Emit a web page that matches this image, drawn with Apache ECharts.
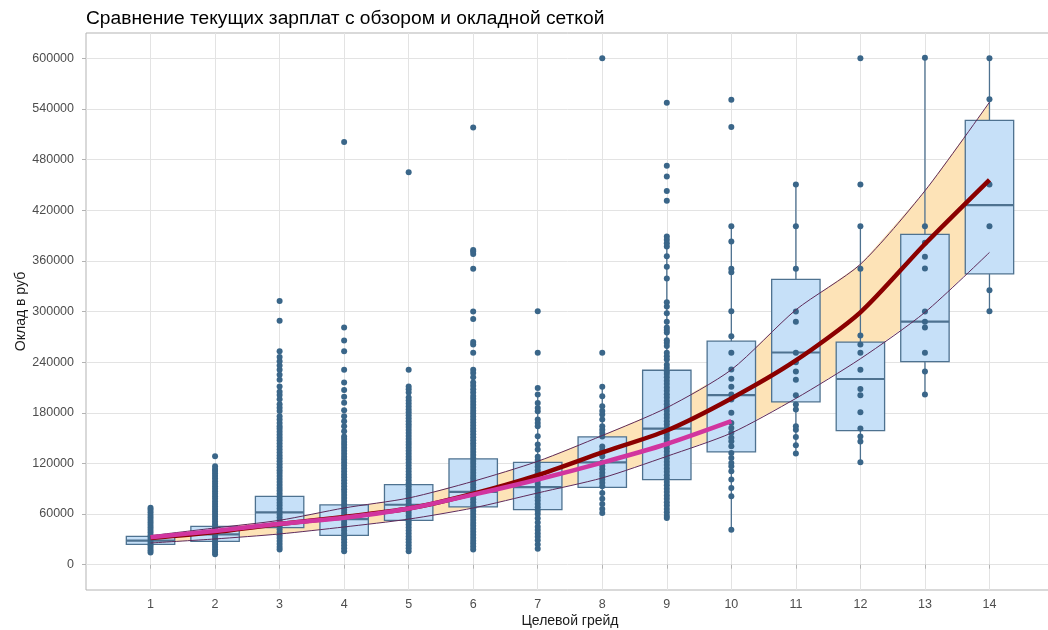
<!DOCTYPE html>
<html>
<head>
<meta charset="utf-8">
<script src="https://cdn.jsdelivr.net/npm/echarts@6/dist/echarts.min.js"></script>
<style>
html,body{margin:0;padding:0;background:#fff;}
#chart{width:1048px;height:630px;}
</style>
</head>
<body>
<div id="chart"></div>
<script>
// ---- data ----
const titleText = 'Сравнение текущих зарплат с обзором и окладной сеткой';
const xName = 'Целевой грейд';
const yName = 'Оклад в руб';
const grades = [1,2,3,4,5,6,7,8,9,10,11,12,13,14];
const yTicks = [0,60000,120000,180000,240000,300000,360000,420000,480000,540000,600000];

// salary grid (band) lower / middle / upper
const gridMin = [25700, 30500, 36400, 44700, 54000, 67200, 85000, 102800, 128400, 156000, 197000, 244000, 299000, 370000];
const gridMid = [31600, 38800, 48200, 56500, 66500, 84000, 106000, 133000, 159000, 197000, 242000, 299000, 380000, 456000];
const gridMax = [34400, 43500, 52600, 67200, 79000, 98800, 122500, 153000, 186000, 231000, 302000, 356000, 443000, 548000];
// survey (market) line, grades 1..10
const surveyGrades = [1,2,3,4,5,6,7,8,9,10];
const survey = [32500, 40000, 48500, 55500, 66500, 83000, 101000, 121000, 143000, 170000];

// box statistics per grade
const boxLow  = [14500, 12500, 18000, 16000, 16000, 18000, 19000, 61300, 55400, 41500, 131600, 121300, 201600, 300400];
const boxQ1   = [24000, 27700, 44000, 34800, 52600, 68400, 65200, 91700, 100800, 133600, 193000, 158900, 240700, 344700];
const boxMed  = [28500, 36000, 62000, 54000, 71000, 86200, 92000, 121300, 161300, 200800, 251400, 220000, 288000, 426000];
const boxQ3   = [33500, 45400, 81000, 70800, 94900, 125300, 121300, 151400, 230400, 264800, 338000, 263600, 391300, 526500];
const boxHigh = [47500, 72000, 137000, 124000, 158000, 210000, 201600, 211000, 389000, 401000, 450600, 401000, 600000, 600000];

// individual salaries per grade
const pts1 = [14500, 17000, 20000, 23000, 26000, 29000, 32000, 35000, 38000, 41000, 44000, 47000, 50000, 53000, 56000, 59000, 62000, 65000, 67500];
const pts2 = [12500, 15000, 18000, 21000, 24000, 27000, 30000, 33000, 36000, 39000, 42000, 45000, 48000, 51000, 54000, 57000, 60000, 63000, 66000, 69000, 72000, 75000, 78000, 81000, 84000, 87000, 90000, 93000, 96000, 99000, 102000, 105000, 108000, 111000, 113500, 116500, 128500];
const pts3 = [18000, 21000, 24500, 28000, 31500, 35000, 38500, 42000, 45500, 49000, 52500, 56000, 59500, 63000, 66500, 70000, 73500, 77000, 80500, 84000, 87500, 91000, 94500, 98000, 101500, 105000, 108500, 112000, 115500, 119000, 122500, 126000, 129500, 133000, 136500, 140000, 143500, 147000, 150500, 154000, 157500, 161000, 164000, 168000, 172000, 176000, 182000, 186000, 190000, 196000, 201000, 205000, 211000, 219000, 225000, 231000, 236000, 241000, 246000, 253000, 289000, 312500];
const pts4 = [16000, 19500, 23000, 26500, 30000, 33500, 37000, 40500, 44000, 47500, 51000, 54500, 58000, 61500, 65000, 68500, 72000, 75500, 79000, 82500, 86000, 89500, 93000, 96500, 100000, 103500, 107000, 110500, 114000, 117500, 121000, 124500, 128000, 131500, 135000, 138500, 142000, 145500, 149000, 152000, 158000, 164000, 170000, 176000, 183000, 192000, 199000, 207000, 216000, 231000, 253000, 265600, 281000, 500700];
const pts5 = [16000, 19500, 23000, 26500, 30000, 33500, 37000, 40500, 44000, 47500, 51000, 54500, 58000, 61500, 65000, 68500, 72000, 75500, 79000, 82500, 86000, 89500, 93000, 96500, 100000, 103500, 107000, 110500, 114000, 117500, 121000, 124500, 128000, 131500, 135000, 138500, 142000, 145500, 149000, 152500, 156000, 159500, 163000, 166500, 170000, 173500, 177000, 180500, 184000, 187500, 191000, 194500, 198000, 204000, 208000, 211000, 231000, 465000];
const pts6 = [18000, 21500, 25000, 28500, 32000, 35500, 39000, 42500, 46000, 49500, 53000, 56500, 60000, 63500, 67000, 70500, 74000, 77500, 81000, 84500, 88000, 91500, 95000, 98500, 102000, 105500, 109000, 112500, 116000, 119500, 123000, 126500, 130000, 133500, 137000, 140500, 144000, 147500, 151000, 154500, 158000, 161500, 165000, 168500, 172000, 175500, 179000, 182500, 186000, 189500, 193000, 196500, 200000, 204000, 208000, 212000, 216000, 222000, 227000, 231000, 251000, 261000, 264000, 291000, 300000, 350600, 368000, 371000, 373000, 518000];
const pts7 = [19000, 24000, 29000, 33000, 37000, 41000, 45000, 50000, 55000, 60000, 64000, 68000, 72000, 76000, 80000, 84000, 88000, 92000, 96000, 100000, 104000, 108000, 112000, 116000, 120000, 124000, 128000, 136400, 142300, 152100, 164000, 168000, 172000, 181800, 185800, 191700, 201600, 209500, 251000, 300400];
const pts8 = [61300, 66000, 72000, 78000, 85000, 92800, 97000, 101000, 105000, 109000, 113000, 117000, 121000, 128400, 132000, 136000, 140000, 152000, 156000, 160000, 164000, 172000, 177900, 182000, 187700, 199500, 210700, 251000, 600000];
const pts9 = [55400, 58000, 62000, 66000, 70000, 74000, 78000, 82000, 86000, 90000, 94000, 98000, 102000, 106000, 110000, 114000, 118000, 122000, 126000, 130000, 134000, 138000, 142000, 146000, 150000, 154000, 158000, 162000, 166000, 170000, 174000, 178000, 182000, 186000, 190000, 194000, 198000, 202000, 206000, 210000, 214000, 218000, 222000, 226000, 229000, 233000, 237000, 243000, 247000, 251000, 259000, 263000, 266000, 275000, 278000, 281000, 288000, 298000, 306000, 311000, 339000, 353000, 365500, 377000, 381000, 385000, 389000, 431200, 442700, 460000, 472700, 547500];
const pts10 = [41500, 81000, 90900, 100800, 110600, 116600, 120600, 126500, 132400, 140300, 146200, 150300, 156200, 162100, 168000, 179900, 195600, 201600, 210700, 220200, 231200, 251000, 270700, 300400, 346600, 350600, 383000, 401000, 518600, 551000];
const pts11 = [131600, 141500, 151400, 160000, 164000, 183800, 189700, 200800, 219000, 229000, 240000, 251000, 288000, 300000, 350600, 401000, 450600];
const pts12 = [121300, 146000, 152000, 161300, 180600, 200800, 208300, 231000, 251000, 261000, 271500, 350600, 401000, 450600, 600000];
const pts13 = [201600, 229000, 251000, 281000, 288000, 300000, 351000, 364900, 381500, 401000, 600800];
const pts14 = [300400, 325300, 401000, 450600, 551400, 600000];
const pointsByGrade = [pts1, pts2, pts3, pts4, pts5, pts6, pts7, pts8, pts9, pts10, pts11, pts12, pts13, pts14];

// ---- build series data ----
const boxData = grades.map((g, i) => [g, boxLow[i], boxQ1[i], boxMed[i], boxQ3[i], boxHigh[i]]);
const scatterData = [];
grades.forEach((g, i) => pointsByGrade[i].forEach(v => scatterData.push([g, v])));
const maxLine = grades.map((g, i) => [g, gridMax[i]]);
const minLine = grades.map((g, i) => [g, gridMin[i]]);
const midLine = grades.map((g, i) => [g, gridMid[i]]);
const surveyLine = surveyGrades.map((g, i) => [g, survey[i]]);

const FONT = '"Liberation Sans", Arial, sans-serif';
const BOX_W = 0.75;

const chart = echarts.init(document.getElementById('chart'), null, {renderer: 'canvas'});
const option = {
  animation: false,
  backgroundColor: '#ffffff',
  title: {
    text: titleText, left: 81, top: 4,
    textStyle: {fontFamily: FONT, fontSize: 19.2, fontWeight: 'normal', color: '#000'}
  },
  grid: {left: 86, top: 33, width: 968, height: 557, show: true, borderColor: '#b3b3b3', borderWidth: 1,
    containLabel: false, outerBoundsMode: 'none'},
  xAxis: {
    type: 'value', min: 0, max: 15, interval: 0.5,
    name: xName, nameLocation: 'middle', nameGap: 24, nameMoveOverlap: false,
    nameTextStyle: {fontFamily: FONT, fontSize: 14, color: '#1a1a1a'},
    axisLine: {show: false},
    axisTick: {show: true, length: 4, customValues: grades, lineStyle: {color: '#b3b3b3'}},
    axisLabel: {customValues: grades, margin: 8, fontFamily: FONT, fontSize: 12.5, color: '#4d4d4d',
      formatter: v => (Number.isInteger(v) && v >= 1 && v <= 14) ? String(v) : ''},
    splitLine: {show: true, lineStyle: {color: '#e3e3e3', width: 1}}
  },
  yAxis: {
    type: 'value', min: -30000, max: 630000, interval: 30000,
    name: yName, nameLocation: 'middle', nameGap: 58, nameRotate: 90, nameMoveOverlap: false,
    nameTextStyle: {fontFamily: FONT, fontSize: 14, color: '#1a1a1a'},
    axisLine: {show: false},
    axisTick: {show: true, length: 4, customValues: yTicks, lineStyle: {color: '#b3b3b3'}},
    axisLabel: {customValues: yTicks, margin: 12, fontFamily: FONT, fontSize: 12.5, color: '#4d4d4d',
      formatter: v => (v >= 0 && v % 60000 === 0) ? String(v) : ''},
    splitLine: {show: true, lineStyle: {color: '#e3e3e3', width: 1}}
  },
  series: [
    { // band fill between grid min and max
      type: 'custom', z: 1, silent: true,
      data: [[grades[0], gridMin[0]]],
      encode: {x: 0, y: 1},
      renderItem: function (params, api) {
        const pts = [];
        for (let i = 0; i < grades.length; i++) pts.push(api.coord([grades[i], gridMax[i]]));
        for (let i = grades.length - 1; i >= 0; i--) pts.push(api.coord([grades[i], gridMin[i]]));
        return {type: 'polygon', shape: {points: pts, smooth: 0}, style: {fill: '#fde3b7', stroke: null}};
      }
    },
    { // box plots
      type: 'custom', z: 2, silent: true,
      data: boxData,
      encode: {x: 0, y: [1, 2, 3, 4, 5]},
      renderItem: function (params, api) {
        const x = api.value(0);
        const lo = api.coord([x, api.value(1)]);
        const q1 = api.coord([x - BOX_W / 2, api.value(2)]);
        const md = api.coord([x, api.value(3)]);
        const q3 = api.coord([x + BOX_W / 2, api.value(4)]);
        const hi = api.coord([x, api.value(5)]);
        const c = '#4e7290';
        return {
          type: 'group',
          children: [
            {type: 'line', shape: {x1: hi[0], y1: hi[1], x2: hi[0], y2: q3[1]}, style: {stroke: c, lineWidth: 1.3}},
            {type: 'line', shape: {x1: lo[0], y1: lo[1], x2: lo[0], y2: q1[1]}, style: {stroke: c, lineWidth: 1.3}},
            {type: 'rect', shape: {x: q1[0], y: q3[1], width: q3[0] - q1[0], height: q1[1] - q3[1]},
              style: {fill: '#c6e0f8', stroke: c, lineWidth: 1.3}},
            {type: 'line', shape: {x1: q1[0], y1: md[1], x2: q3[0], y2: md[1]}, style: {stroke: c, lineWidth: 2.2}}
          ]
        };
      }
    },
    {
      type: 'scatter', z: 3, silent: true, symbol: 'circle', symbolSize: 6,
      itemStyle: {color: '#3a6689', opacity: 1},
      data: scatterData
    },
    {
      type: 'line', z: 4, silent: true, symbol: 'none', smooth: 0.25,
      lineStyle: {color: '#5e2a5a', width: 1}, data: maxLine
    },
    {
      type: 'line', z: 4, silent: true, symbol: 'none', smooth: 0.25,
      lineStyle: {color: '#5e2a5a', width: 1}, data: minLine
    },
    {
      type: 'line', z: 5, silent: true, symbol: 'none', smooth: 0.25,
      lineStyle: {color: '#8b0000', width: 4.5}, data: midLine
    },
    {
      type: 'line', z: 6, silent: true, symbol: 'none', smooth: 0.25,
      lineStyle: {color: '#d1359f', width: 4.5}, data: surveyLine
    }
  ]
};
chart.setOption(option);
</script>
</body>
</html>
